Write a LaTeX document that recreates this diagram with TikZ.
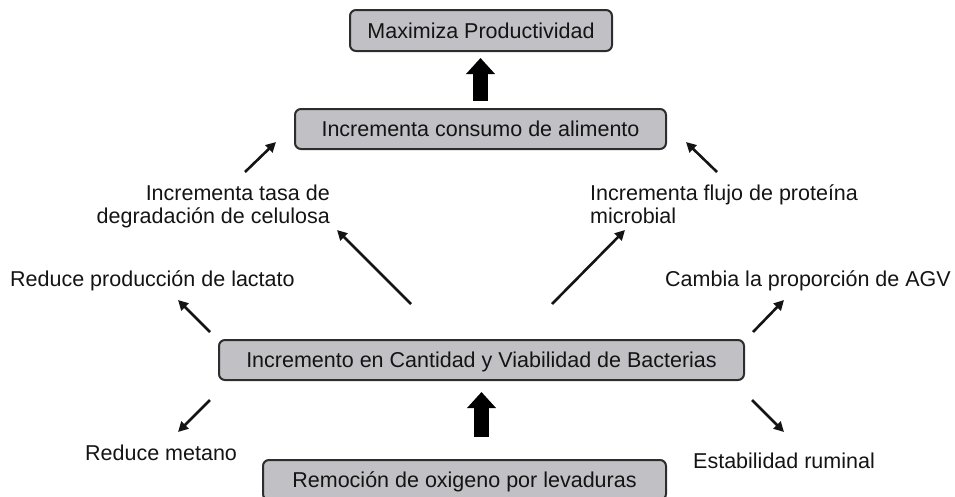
\documentclass[tikz,border=0pt]{standalone}
\usepackage{fontspec}
\setmainfont{Liberation Sans}
\usetikzlibrary{arrows.meta}
\definecolor{boxfill}{RGB}{192,192,197}
\definecolor{boxline}{RGB}{45,45,45}
\definecolor{txt}{RGB}{20,20,20}
\begin{document}
\begin{tikzpicture}[x=1pt,y=-1pt,
  font=\fontsize{21.5}{23}\selectfont,
  box/.style={draw=boxline, line width=2pt, fill=boxfill, rounded corners=6pt,
    minimum height=40pt, inner sep=0pt, text=txt, text height=15.5pt, text depth=0pt},
  lbl/.style={inner sep=0pt, text=txt},
  thinarrow/.style={line width=2.6pt, txt, -{Triangle[length=10pt,width=10pt]}},
  blockarrow/.style={line width=15pt, black, -{Triangle[length=16pt,width=28pt]}}]
\useasboundingbox (0,0) rectangle (955,496);
\clip (0,0) rectangle (955,496);

% boxes
\node[box, minimum width=262pt, minimum height=41pt] (max) at (481,30.5) {Maximiza Productividad};
\node[box, minimum width=371pt] (cons) at (480.5,129) {Incrementa consumo de alimento};
\node[box, minimum width=525pt] (bac) at (481.5,360) {Incremento en Cantidad y Viabilidad de Bacterias};
\node[box, minimum width=403pt] (rem) at (464.5,480) {Remoción de oxigeno por levaduras};

% labels
\node[lbl, anchor=base east] (cel1) at (330,200) {Incrementa tasa de};
\node[lbl, anchor=base east] (cel2) at (330,223) {degradación de celulosa};
\node[lbl, anchor=base west] (pro1) at (590,200) {Incrementa flujo de proteína};
\node[lbl, anchor=base west] (pro2) at (590,223) {microbial};
\node[lbl, anchor=base west] (lac) at (10,286) {Reduce producción de lactato};
\node[lbl, anchor=base west] (agv) at (665,286) {Cambia la proporción de AGV};
\node[lbl, anchor=base west] (met) at (85,460) {Reduce metano};
\node[lbl, anchor=base west] (rum) at (693,468) {Estabilidad ruminal};

% block arrows
\draw[blockarrow, shorten <=7pt, shorten >=6pt] (cons.north) -- (cons.north |- max.south);
\draw[blockarrow, shorten <=22pt, shorten >=11pt] (rem.north -| bac.south) -- (bac.south);

% arrow end points
\coordinate (celT) at (245,172); \coordinate (celH) at (276,142);
\coordinate (proT) at (717,172); \coordinate (proH) at (686,142);
\coordinate (bcT) at (411,304); \coordinate (bcH) at (337,230);
\coordinate (bpT) at (552,304); \coordinate (bpH) at (625,230);
\coordinate (lacT) at (210,332); \coordinate (lacH) at (178,300);
\coordinate (agvT) at (753,332); \coordinate (agvH) at (784,300);
\coordinate (metT) at (210,400); \coordinate (metH) at (178,432);
\coordinate (rumT) at (752,400); \coordinate (rumH) at (784,432);

\draw[thinarrow] (celT) -- (celH);
\draw[thinarrow] (proT) -- (proH);
\draw[thinarrow] (bcT) -- (bcH);
\draw[thinarrow] (bpT) -- (bpH);
\draw[thinarrow] (lacT) -- (lacH);
\draw[thinarrow] (agvT) -- (agvH);
\draw[thinarrow] (metT) -- (metH);
\draw[thinarrow] (rumT) -- (rumH);
\end{tikzpicture}
\end{document}
